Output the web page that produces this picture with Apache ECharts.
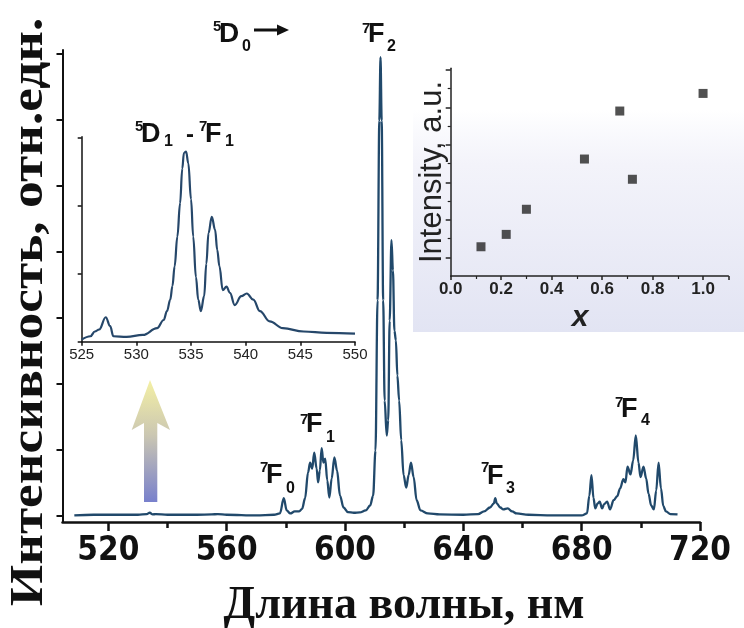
<!DOCTYPE html>
<html>
<head>
<meta charset="utf-8">
<script src="https://cdn.jsdelivr.net/npm/echarts@6/dist/echarts.min.js"></script>
<style>
html,body{margin:0;padding:0;background:#fff;}
#c{width:744px;height:628px;}
</style>
</head>
<body>
<div id="c"></div>
<script>
// ---- Main emission spectrum (nm, relative intensity) ----
const specNm = [508.5,515,525,530,533,534,535,536,540,550,555,557,560,570,576,578,579.3,580.3,581.5,583,584.5,585.5,586.5,587.5,588.2,588.9,589.6,590.4,590.9,591.5,592.1,592.7,593.3,594.0,594.7,595.5,596.4,597.3,598.3,599.5,601,603,605,607,608.5,609.5,610.3,611.0,611.6,612.0,612.4,612.9,613.4,614.1,614.6,615.1,615.7,616.2,616.7,617.2,617.7,618.3,619.0,619.8,620.7,621.5,622.3,623.2,624.2,625.5,628,632,640,645,647,649,650.3,650.8,651.3,652.5,653.5,655,656.5,658,662,670,680,681.8,682.6,683.3,684.0,684.6,685.4,686.1,686.9,687.6,688.6,689.6,690.8,692.0,693.0,694.1,694.8,695.5,696.5,697.4,698.3,699.2,699.9,700.9,701.8,702.6,703.5,704.4,705.2,706.0,706.8,707.6,708.5,710,712.4];
const specInt = [0.00,0.01,0.01,0.01,0.02,0.04,0.015,0.02,0.01,0.01,0.015,0.02,0.01,0,0.01,0.03,0.26,0.075,0.03,0.06,0.06,0.1,0.26,0.65,0.80,0.71,0.95,0.71,0.5,0.68,1.02,0.80,0.86,0.53,0.27,0.56,0.88,0.68,0.30,0.12,0.05,0.04,0.045,0.075,0.15,0.30,0.98,3.26,5.98,6.94,5.98,3.26,1.74,1.21,1.44,2.95,4.17,3.71,2.80,2.65,2.12,1.74,1.14,0.61,0.42,0.61,0.80,0.58,0.23,0.075,0.03,0.015,0.01,0.02,0.06,0.12,0.18,0.26,0.18,0.12,0.09,0.105,0.06,0.03,0.01,0,0,0.03,0.30,0.61,0.26,0.105,0.18,0.21,0.105,0.17,0.21,0.09,0.23,0.29,0.41,0.55,0.5,0.74,0.62,0.83,1.21,0.80,0.58,0.74,0.56,0.33,0.15,0.09,0.38,0.80,0.41,0.14,0.06,0.02,0.015];
const mainMajorTicks = [520,560,600,640,680,720];
const mainMinorTicks = [540,580,620,660,700];
const mainYTicks = [0,1,2,3,4,5,6,7];

// ---- Inset: 5D1 - 7F1 region ----
const insetNm = [525.0,525.8,526.2,526.6,527.2,527.6,527.9,529.1,530.6,531.9,532.5,532.8,533.1,533.3,533.5,533.75,534.0,534.2,534.35,534.55,534.75,535.0,535.2,535.45,535.66,535.9,536.2,536.4,536.6,536.9,537.2,537.4,537.6,537.9,538.25,538.56,539.0,539.6,540.1,540.7,541.3,542.2,543.4,545.3,547.4,550];
const insetInt = [0.03,0.08,0.15,0.18,0.36,0.23,0.08,0.07,0.10,0.20,0.32,0.45,0.62,0.82,1.11,1.55,2.04,2.55,2.78,2.80,2.63,2.10,1.55,0.95,0.62,0.45,0.67,1.15,1.60,1.84,1.65,1.35,1.11,0.76,0.81,0.72,0.54,0.67,0.71,0.62,0.45,0.30,0.20,0.15,0.13,0.12];

// ---- Inset: intensity vs x ----
const compX = [0.12,0.22,0.30,0.53,0.67,0.72,1.0];
const compI = [1.28,1.61,2.28,3.62,4.9,3.08,5.37];
const compMajorY = [1,2,3,4,5,6];
const compMinorY = [1.5,2.5,3.5,4.5,5.5];

const zip = (a,b) => a.map((v,i) => [v,b[i]]);

const chart = echarts.init(document.getElementById('c'), null, {renderer:'canvas'});

const SANS = "'Liberation Sans', Arial, sans-serif";
const NARROW = "'Liberation Sans Narrow', 'DejaVu Sans Condensed', 'Liberation Sans', sans-serif";
const SERIF = "'Liberation Serif', 'Times New Roman', serif";
const ink = '#111';

function txt(x, y, text, size, extra) {
  return {
    type: 'text', x: x, y: y, z: 20,
    style: Object.assign({
      text: text, fontSize: size, fontWeight: 'bold', fontFamily: SANS,
      fill: ink, align: 'left', verticalAlign: 'middle'
    }, extra || {})
  };
}
function rot(el, sx) { el.rotation = Math.PI / 2; if (sx) el.scaleX = sx; return el; }

const graphics = [
  // scatter inset panel background
  { type:'rect', z:-5, shape:{x:413, y:110, width:331, height:222},
    style:{ fill:{ type:'linear', x:0, y:0, x2:0, y2:1,
      colorStops:[{offset:0,color:'rgba(240,241,250,0)'},{offset:0.25,color:'#f3f3fa'},{offset:1,color:'#e2e4f3'}] } } },
  // gradient arrow
  { type:'polygon', z:10, shape:{ points:[[150,380],[170,430],[157.3,423],[157.3,502],[144,502],[144,423],[131.7,430]] },
    style:{ fill:{ type:'linear', x:0, y:0, x2:0, y2:1,
      colorStops:[{offset:0,color:'#f4f0a4'},{offset:0.45,color:'#cbc7b2'},{offset:1,color:'#7880cc'}] } } },
  // axis titles
  rot(txt(30, 312, 'Интенсивность, отн.едн.', 46, {fontFamily: SERIF, align:'center'}), 1.16),
  txt(404, 606, 'Длина волны, нм', 46, {fontFamily: SERIF, align:'center'}),
  // scatter axis titles
  rot(txt(432, 172, 'Intensity, a.u.', 31, {fontWeight:'normal', align:'center', fill:'#222'})),
  txt(580, 318, 'x', 30, {fontStyle:'italic', align:'center', fill:'#222'}),
  // 5D0 ->
  txt(213, 27, '5', 15), txt(219, 34, 'D', 28), txt(242, 47, '0', 16),
  { type:'line', z:20, shape:{x1:254, y1:30, x2:280, y2:30}, style:{stroke:ink, lineWidth:3} },
  { type:'polygon', z:20, shape:{points:[[277,24.5],[289,30],[277,35.5]]}, style:{fill:ink} },
  // 7F2
  txt(362, 29, '7', 15), txt(368, 35, 'F', 27), txt(387, 47, '2', 16),
  // 5D1 - 7F1
  txt(135, 127, '5', 15), txt(141, 135, 'D', 27), txt(164, 142, '1', 16),
  txt(186, 135, '-', 24),
  txt(199, 127, '7', 15), txt(205, 135, 'F', 27), txt(225, 142, '1', 16),
  // 7F1, 7F0, 7F3, 7F4
  txt(300, 420, '7', 15), txt(306, 425, 'F', 27), txt(326, 438, '1', 16),
  txt(260, 468, '7', 15), txt(266, 476, 'F', 27), txt(286, 489, '0', 16),
  txt(481, 468, '7', 15), txt(487, 477, 'F', 27), txt(506, 489, '3', 16),
  txt(615, 403, '7', 15), txt(621, 410, 'F', 27), txt(641, 421, '4', 16)
];

const option = {
  animation: false,
  backgroundColor: '#fff',
  grid: [
    { left: 62.5, top: 50, width: 637.5, height: 472, containLabel: false },
    { left: 81.7, top: 136.7, width: 273.3, height: 205, containLabel: false },
    { left: 450.7, top: 68.3, width: 277.6, height: 207.7, containLabel: false }
  ],
  xAxis: [
    { gridIndex:0, type:'value', min:504.5, max:720,
      axisLine:{show:true, onZero:false, lineStyle:{color:ink, width:2.5}},
      axisTick:{show:true, customValues: mainMajorTicks, length:9, lineStyle:{color:ink, width:2.5}},
      axisLabel:{show:true, customValues: mainMajorTicks, margin:13, fontSize:33, fontWeight:'bold', fontFamily:NARROW, color:ink},
      splitLine:{show:false} },
    { gridIndex:0, type:'value', min:504.5, max:720, position:'bottom',
      axisLine:{show:false, onZero:false},
      axisTick:{show:true, customValues: mainMinorTicks, length:6, lineStyle:{color:ink, width:2.5}},
      axisLabel:{show:false}, splitLine:{show:false} },
    { gridIndex:1, type:'value', min:525, max:550, interval:5,
      axisLine:{show:true, onZero:false, lineStyle:{color:ink, width:1.5}},
      axisTick:{show:true, length:4, lineStyle:{color:ink, width:1.5}},
      axisLabel:{show:true, margin:6, fontSize:15, fontFamily:SANS, color:'#222'},
      splitLine:{show:false} },
    { gridIndex:2, type:'value', min:0, max:1.1, interval:0.2,
      axisLine:{show:true, onZero:false, lineStyle:{color:'#222', width:1.5}},
      axisTick:{show:true, length:4, lineStyle:{color:'#222', width:1.5}},
      minorTick:{show:true, splitNumber:2, length:3, lineStyle:{color:'#222', width:1.2}},
      axisLabel:{show:true, margin:5, fontSize:17, fontWeight:'bold', fontFamily:SANS, color:'#222', showMaxLabel:false,
        formatter: v => v.toFixed(1)},
      splitLine:{show:false} }
  ],
  yAxis: [
    { gridIndex:0, type:'value', min:-0.1, max:7.05,
      axisLine:{show:true, onZero:false, lineStyle:{color:ink, width:2}},
      axisTick:{show:true, customValues: mainYTicks, length:6, lineStyle:{color:ink, width:2}},
      axisLabel:{show:false}, splitLine:{show:false} },
    { gridIndex:1, type:'value', min:0, max:3.02,
      axisLine:{show:true, onZero:false, lineStyle:{color:ink, width:1.5}},
      axisTick:{show:true, customValues:[0,1,2,3], length:4, lineStyle:{color:ink, width:1.5}},
      axisLabel:{show:false}, splitLine:{show:false} },
    { gridIndex:2, type:'value', min:0.5, max:6.04,
      axisLine:{show:true, onZero:false, lineStyle:{color:'#222', width:1.5}},
      axisTick:{show:true, customValues: compMajorY, length:5, lineStyle:{color:'#222', width:1.5}},
      axisLabel:{show:false}, splitLine:{show:false} },
    { gridIndex:2, type:'value', min:0.5, max:6.04, position:'left',
      axisLine:{show:false, onZero:false},
      axisTick:{show:true, customValues: compMinorY, length:3, lineStyle:{color:'#222', width:1.2}},
      axisLabel:{show:false}, splitLine:{show:false} }
  ],
  series: [
    { type:'line', xAxisIndex:0, yAxisIndex:0, data: zip(specNm, specInt), showSymbol:false,
      smooth:0.35, smoothMonotone:'x', lineStyle:{color:'#21496b', width:2.3}, z:5 },
    { type:'line', xAxisIndex:2, yAxisIndex:1, data: zip(insetNm, insetInt), showSymbol:false,
      smooth:0.4, smoothMonotone:'x', lineStyle:{color:'#26476a', width:2.2}, z:5 },
    { type:'scatter', xAxisIndex:3, yAxisIndex:2, data: zip(compX, compI), symbol:'rect', symbolSize:9,
      itemStyle:{color:'#262626'}, z:6 }
  ],
  graphic: graphics
};
chart.setOption(option);
</script>
</body>
</html>
